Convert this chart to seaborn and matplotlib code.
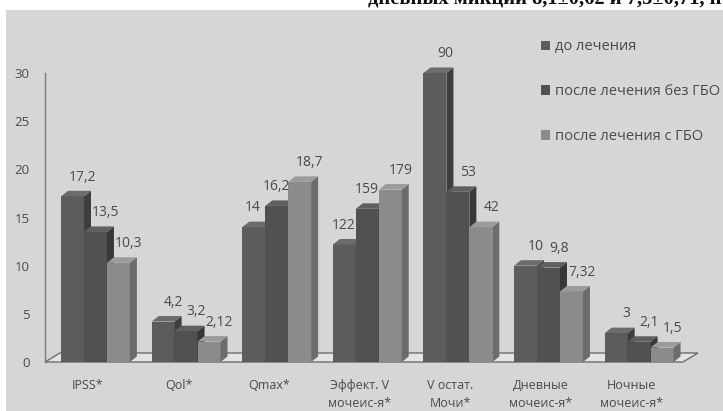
import matplotlib
matplotlib.use("Agg")
import matplotlib.pyplot as plt
from matplotlib.patches import Polygon, Rectangle, Patch
from matplotlib.transforms import ScaledTranslation
import pandas as pd
import seaborn as sns

# ---- data -------------------------------------------------------------
categories = ["IPSS*", "Qol*", "Qmax*", "Эффект. V\nмочеис-я*", "V остат.\nМочи*",
              "Дневные\nмочеис-я*", "Ночные\nмочеис-я*"]
series_names = ["до лечения", "после лечения без ГБО", "после лечения с ГБО"]
before = [17.2, 4.2, 14, 122, 90, 10, 3]
after_no_hbo = [13.5, 3.2, 16.2, 159, 53, 9.8, 2.1]
after_hbo = [10.3, 2.12, 18.7, 179, 42, 7.32, 1.5]
# the two volume indicators are shown compressed so they fit the common 0-30 axis
axis_scale = [1, 1, 1, 0.1, 1 / 3, 1, 1]
y_ticks = [0, 5, 10, 15, 20, 25, 30]

front_colors = ["#5c5c5c", "#515151", "#8b8b8b"]
top_colors = ["#6c6c6c", "#606060", "#9b9b9b"]
side_colors = ["#3e3e3e", "#383838", "#6c6c6c"]
text_color = "#4a4a4a"

sns.set_theme(style="white")
plt.rcParams["font.family"] = ["Open Sans", "DejaVu Sans"]

rows = []
for name, vals in zip(series_names, [before, after_no_hbo, after_hbo]):
    for cat, v, s in zip(categories, vals, axis_scale):
        rows.append({"cat": cat, "series": name, "value": v, "height": v * s})
df = pd.DataFrame(rows)

W_PX, H_PX, DPI = 723, 411, 100
fig = plt.figure(figsize=(W_PX / DPI, H_PX / DPI), dpi=DPI)
fig.patch.set_facecolor("white")
fig.add_artist(Rectangle((6 / W_PX, 0), 1, 1 - 10 / H_PX, transform=fig.transFigure,
                         facecolor="#d6d6d6", edgecolor="none", zorder=0))

ax_l, ax_b, ax_w, ax_h = 45, 49, 655, 289
ax = fig.add_axes([ax_l / W_PX, ax_b / H_PX, ax_w / W_PX, ax_h / H_PX])
ax.set_facecolor("none")

sns.barplot(data=df, x="cat", y="height", hue="series", order=categories,
            hue_order=series_names, palette=front_colors, saturation=1,
            width=0.76, dodge=True, legend=False, errorbar=None, ax=ax)

xlim = (-0.557, 6.672)
ylim = (0, 30)
ax.set_xlim(*xlim)
ax.set_ylim(*ylim)
px_x = ax_w / (xlim[1] - xlim[0])
px_y = ax_h / (ylim[1] - ylim[0])
dx = 7 / px_x
dy = 5.5 / px_y

# floor of the 3-D box
fx0, fx1 = xlim[0], xlim[0] + 638 / px_x
floor = Polygon([(fx0, 0), (fx1, 0), (fx1 + 15 / px_x, 9 / px_y), (fx0 + 15 / px_x, 9 / px_y)],
                closed=True, facecolor="#e4e4e4", edgecolor="#6e6e6e", lw=1.0,
                zorder=1, clip_on=False)
ax.add_patch(floor)

# extrude every bar into a box and write its value above it
heights = [[b.get_height() for b in cont] for cont in ax.containers]
vals_by_series = [before, after_no_hbo, after_hbo]
for k, cont in enumerate(ax.containers):
    for i, bar in enumerate(cont):
        x0 = bar.get_x()
        w = bar.get_width()
        h = bar.get_height()
        x1 = x0 + w
        bar.set_zorder(3 + k)
        bar.set_edgecolor("none")
        bar.set_clip_on(False)
        top = Polygon([(x0, h), (x1, h), (x1 + dx, h + dy), (x0 + dx, h + dy)],
                      closed=True, facecolor=top_colors[k], edgecolor="none",
                      zorder=3 + k + 0.1, clip_on=False)
        side = Polygon([(x1, 0), (x1 + dx, dy), (x1 + dx, h + dy), (x1, h)],
                       closed=True, facecolor=side_colors[k], edgecolor="none",
                       zorder=3 + k + 0.1, clip_on=False)
        ax.add_patch(side)
        ax.add_patch(top)
        # nudge the label away from a taller neighbour on the right
        taller_next = k + 1 < len(heights) and heights[k + 1][i] > h
        x_off = -3 if taller_next else 5
        v = vals_by_series[k][i]
        txt = f"{v:g}".replace(".", ",")
        ax.annotate(txt, (x0 + w / 2 + dx / 2, h + dy), xytext=(x_off, 4.5),
                    textcoords="offset points", ha="center", va="bottom",
                    fontsize=10, color=text_color, zorder=10,
                    annotation_clip=False)

# axes styling
for sp in ["top", "right", "bottom"]:
    ax.spines[sp].set_visible(False)
ax.spines["left"].set_color("#7a7a7a")
ax.spines["left"].set_linewidth(1.0)
ax.set_yticks(y_ticks)
ax.set_yticklabels([str(t) for t in y_ticks])
ax.tick_params(axis="y", length=0, pad=11, labelsize=9.5, labelcolor=text_color)
ax.tick_params(axis="x", length=0, pad=12, labelsize=9, labelcolor=text_color)
ax.set_xlabel("")
ax.set_ylabel("")
shift = ScaledTranslation(-7.5 / DPI, 0, fig.dpi_scale_trans)
for lab in ax.get_xticklabels():
    lab.set_linespacing(1.5)
    lab.set_transform(lab.get_transform() + shift)

handles = [Patch(facecolor=c, edgecolor="none") for c in front_colors]
fig.legend(handles, series_names, loc="upper left",
           bbox_to_anchor=(534 / W_PX, 1 - 32 / H_PX), frameon=False,
           handlelength=0.6, handleheight=0.6, handletextpad=0.35,
           labelspacing=2.05, fontsize=10.5, labelcolor=text_color, borderpad=0)

# running text of the page above the chart
fig.text(368 / W_PX, 1 - 5 / H_PX, "дневных микций 8,1±0,62 и 7,5±0,71, п",
         family=["Liberation Serif", "DejaVu Serif"], fontweight="bold",
         fontsize=14.8, color="#111111", ha="left", va="baseline")

fig.savefig("out.png", dpi=DPI, facecolor=fig.get_facecolor())
